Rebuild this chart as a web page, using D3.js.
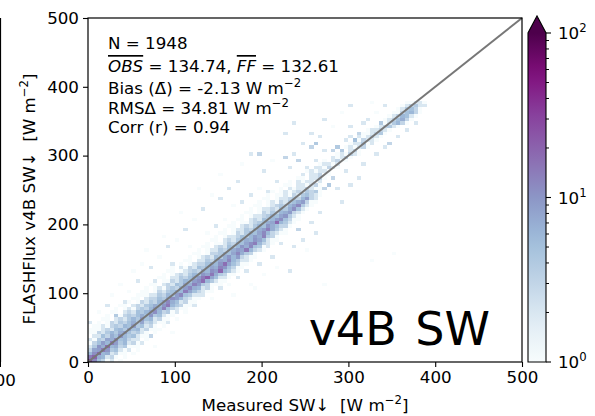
<!DOCTYPE html>
<html>
<head>
<meta charset="utf-8">
<script src="https://cdn.jsdelivr.net/npm/d3@7"></script>
<style>
  body { margin: 0; background: #fff; }
  text { font-family: "DejaVu Sans", sans-serif; fill: #000; white-space: pre; }
</style>
</head>
<body>
<div id="chart"></div>
<script>
// 2D histogram of FLASHFlux v4B SW vs measured SW, 5 W m-2 bins
// dense band: [y bin start, first x bin start, counts for consecutive x bins]
var bandRows = [
  [0, 0, [28, 12, 5, 3, 1, 2, 0, 1]],
  [5, 0, [14, 20, 7, 6, 2, 3, 1, 0, 1]],
  [10, 0, [6, 11, 19, 6, 7, 2, 3, 1, 1, 0, 1]],
  [15, 0, [3, 8, 9, 15, 10, 4, 5, 2, 1, 2, 0, 1]],
  [20, 0, [2, 4, 10, 7, 18, 6, 7, 3, 4, 1, 1, 1]],
  [25, 0, [1, 3, 5, 9, 6, 14, 9, 4, 6, 2, 3, 1, 1]],
  [30, 0, [2, 1, 4, 3, 8, 7, 12, 5, 6, 3, 2, 2, 0, 1]],
  [35, 0, [0, 2, 2, 5, 3, 7, 5, 10, 6, 4, 5, 2, 1, 1, 1]],
  [40, 0, [1, 1, 3, 2, 4, 6, 4, 7, 9, 5, 3, 4, 2, 1, 0, 1]],
  [45, 0, [1, 0, 1, 2, 3, 2, 5, 6, 4, 8, 5, 6, 2, 3, 1, 1]],
  [50, 5, [1, 1, 2, 1, 3, 4, 3, 6, 5, 9, 4, 5, 2, 3, 1, 0, 1]],
  [55, 10, [1, 0, 1, 3, 2, 4, 3, 5, 7, 4, 8, 3, 4, 2, 1, 1]],
  [60, 15, [1, 1, 0, 2, 3, 2, 4, 6, 4, 9, 5, 6, 2, 3, 1, 1]],
  [65, 20, [1, 0, 2, 1, 3, 4, 3, 5, 7, 5, 10, 4, 5, 2, 1, 1]],
  [70, 25, [1, 1, 0, 2, 3, 2, 5, 4, 6, 8, 11, 6, 3, 4, 1, 2]],
  [75, 30, [1, 0, 1, 2, 1, 3, 4, 3, 6, 9, 7, 13, 5, 3, 2, 1, 1]],
  [80, 35, [1, 1, 0, 2, 3, 2, 4, 5, 7, 6, 10, 15, 6, 4, 3, 1, 1]],
  [85, 45, [1, 0, 1, 3, 2, 4, 3, 6, 8, 12, 7, 5, 2, 3, 1, 1]],
  [90, 50, [1, 1, 0, 2, 3, 3, 5, 4, 7, 11, 9, 6, 3, 2, 1, 1]],
  [95, 55, [1, 0, 1, 2, 2, 4, 3, 6, 5, 9, 12, 5, 4, 2, 2, 1]],
  [100, 60, [1, 1, 0, 1, 3, 2, 4, 5, 7, 6, 14, 8, 5, 3, 2, 1, 1]],
  [105, 65, [1, 0, 1, 2, 1, 3, 4, 3, 6, 9, 12, 7, 6, 2, 3, 1]],
  [110, 70, [1, 1, 0, 2, 3, 2, 5, 4, 8, 7, 13, 9, 4, 3, 1, 1, 1]],
  [115, 75, [1, 0, 1, 1, 3, 2, 4, 6, 5, 9, 11, 17, 6, 4, 2, 1, 1]],
  [120, 80, [1, 1, 0, 2, 2, 4, 3, 5, 7, 9, 14, 21, 8, 5, 2, 2, 1]],
  [125, 85, [1, 0, 1, 2, 3, 2, 4, 6, 5, 10, 8, 15, 7, 4, 3, 1, 1]],
  [130, 90, [1, 1, 0, 1, 2, 3, 4, 3, 7, 6, 11, 9, 19, 6, 4, 2, 1]],
  [135, 95, [1, 0, 2, 1, 3, 2, 5, 4, 6, 8, 7, 13, 10, 5, 3, 1, 1]],
  [140, 105, [1, 0, 1, 2, 3, 3, 5, 7, 6, 10, 17, 8, 5, 3, 1, 1]],
  [145, 110, [1, 1, 0, 2, 2, 4, 3, 6, 8, 7, 12, 6, 4, 2, 2, 1]],
  [150, 115, [1, 0, 1, 2, 3, 2, 5, 4, 7, 10, 6, 9, 3, 2, 1, 1]],
  [155, 120, [1, 1, 0, 1, 3, 3, 4, 6, 5, 8, 12, 7, 4, 3, 1]],
  [160, 125, [1, 0, 1, 2, 2, 4, 3, 5, 7, 9, 8, 15, 6, 3, 2, 1]],
  [165, 130, [1, 1, 0, 2, 3, 2, 5, 4, 6, 10, 7, 12, 5, 4, 1, 1]],
  [170, 135, [1, 0, 1, 1, 2, 4, 3, 6, 5, 8, 11, 14, 6, 3, 2, 1]],
  [175, 140, [1, 1, 0, 2, 3, 2, 4, 5, 7, 6, 10, 8, 5, 2, 1, 1]],
  [180, 145, [1, 0, 1, 2, 2, 3, 5, 4, 6, 9, 7, 11, 4, 3, 1]],
  [185, 150, [1, 1, 0, 1, 3, 2, 4, 6, 5, 8, 12, 6, 3, 2, 1, 1]],
  [190, 155, [1, 0, 1, 2, 2, 4, 3, 5, 7, 9, 14, 7, 4, 2, 1]],
  [195, 160, [1, 1, 0, 2, 3, 2, 4, 6, 5, 10, 7, 5, 3, 1, 1]],
  [200, 165, [1, 0, 1, 1, 2, 3, 4, 5, 7, 8, 18, 6, 4, 2, 1]],
  [205, 170, [1, 1, 0, 2, 3, 2, 5, 4, 6, 9, 11, 5, 3, 1, 1]],
  [210, 175, [1, 0, 1, 2, 2, 3, 4, 6, 5, 8, 10, 4, 2, 1]],
  [215, 180, [1, 1, 0, 1, 3, 2, 4, 3, 6, 7, 9, 3, 2, 1]],
  [220, 185, [1, 0, 1, 2, 2, 3, 2, 5, 4, 7, 11, 5, 2, 1]],
  [225, 190, [1, 1, 0, 1, 2, 3, 4, 3, 6, 8, 12, 4, 2, 1]],
  [230, 195, [1, 0, 1, 2, 1, 3, 2, 4, 5, 7, 9, 3, 1, 1]],
  [235, 200, [1, 1, 0, 1, 2, 2, 3, 4, 3, 6, 7, 3, 2]],
  [240, 205, [1, 0, 1, 1, 2, 1, 3, 2, 4, 5, 3, 2, 1]],
  [245, 210, [1, 0, 1, 2, 1, 2, 3, 2, 4, 3, 2, 1]],
  [250, 220, [1, 0, 2, 1, 2, 2, 3, 2, 1, 1]],
  [255, 225, [1, 1, 0, 2, 2, 1, 2, 3, 1]],
  [260, 230, [1, 0, 2, 1, 2, 2, 1, 2]],
  [265, 240, [1, 1, 0, 2, 2, 3, 1]],
  [270, 245, [1, 0, 2, 2, 3, 1, 1]],
  [275, 250, [1, 2, 1, 2, 2, 1]],
  [280, 260, [2, 0, 1, 3, 2, 1]],
  [285, 265, [1, 2, 2, 1, 2]],
  [290, 270, [1, 0, 2, 3, 1, 1]],
  [295, 280, [2, 1, 2, 3, 1]],
  [300, 285, [1, 2, 1, 3, 2, 1]],
  [305, 290, [1, 0, 2, 3, 1]],
  [310, 295, [1, 2, 1, 2, 3, 1]],
  [315, 300, [1, 2, 2, 4, 1, 2]],
  [320, 305, [1, 1, 3, 2, 2, 1]],
  [325, 310, [2, 1, 2, 3, 2, 1]],
  [330, 315, [1, 1, 2, 3, 4, 1]],
  [335, 320, [1, 2, 2, 3, 2, 1]],
  [340, 330, [1, 2, 3, 4, 2, 1]],
  [345, 335, [1, 1, 2, 4, 6, 3, 1]],
  [350, 340, [1, 2, 3, 5, 7, 3, 1]],
  [355, 345, [1, 2, 3, 6, 5, 2, 1]],
  [360, 350, [1, 1, 3, 5, 6, 3, 1]],
  [365, 355, [1, 2, 4, 5, 3, 1]],
  [370, 360, [1, 2, 3, 4, 2, 1]],
  [375, 365, [1, 1, 2, 2, 1]]
];

// scattered cells away from the band: [x bin start, y bin start, count]
var scatterCells = [
  [5, 45, 1], [0, 55, 2], [10, 70, 1], [20, 80, 2], [25, 95, 1], [35, 110, 1], [30, 65, 2],
  [45, 100, 1], [55, 115, 2], [50, 130, 1], [60, 140, 1], [70, 135, 2], [80, 150, 1],
  [65, 160, 1], [90, 165, 2], [100, 175, 1], [85, 180, 1], [110, 190, 2], [120, 205, 1],
  [105, 215, 1], [130, 220, 2], [140, 240, 1], [125, 250, 1], [150, 235, 2], [160, 250, 2],
  [150, 270, 1], [170, 260, 2], [175, 285, 1], [185, 300, 2], [195, 300, 3], [200, 275, 2],
  [210, 290, 1], [215, 260, 2], [225, 295, 3], [230, 280, 2], [235, 300, 2], [240, 290, 3],
  [225, 330, 2], [235, 345, 2], [245, 315, 2], [255, 310, 3], [260, 315, 4], [255, 330, 2],
  [265, 325, 2], [270, 305, 2], [280, 305, 3], [285, 310, 4], [290, 305, 3], [295, 320, 2],
  [300, 325, 2], [305, 320, 4], [310, 330, 3], [315, 345, 2], [300, 340, 2], [280, 340, 1],
  [270, 350, 2], [320, 350, 2], [330, 360, 1], [335, 345, 3], [340, 370, 2], [325, 375, 1],
  [290, 360, 1], [300, 370, 2], [260, 290, 2], [250, 280, 2], [245, 270, 1], [265, 280, 2],
  [185, 240, 2], [195, 250, 1], [175, 230, 2], [165, 225, 1], [205, 245, 2], [155, 205, 1],
  [145, 195, 2], [135, 185, 1], [115, 165, 1], [95, 140, 2], [75, 115, 1], [60, 95, 1],
  [40, 85, 2],
  [60, 25, 1], [70, 35, 2], [80, 45, 1], [75, 20, 1], [90, 55, 2], [100, 60, 1], [110, 70, 1],
  [95, 40, 1], [120, 80, 2], [130, 95, 1], [140, 90, 1], [150, 105, 2], [160, 110, 1],
  [170, 120, 2], [165, 95, 1], [180, 130, 2], [185, 110, 1], [190, 105, 1], [195, 140, 2],
  [200, 125, 1], [210, 150, 2], [215, 135, 1], [220, 170, 2], [230, 130, 2], [235, 165, 2],
  [240, 190, 3], [245, 175, 2], [250, 160, 1], [255, 200, 2], [260, 185, 2], [265, 215, 2],
  [270, 250, 3], [275, 255, 4], [280, 265, 3], [285, 250, 2], [270, 110, 1], [290, 230, 2],
  [300, 255, 2], [310, 265, 2], [325, 145, 1], [330, 300, 2], [340, 310, 2], [345, 315, 3],
  [350, 155, 1], [355, 325, 2], [365, 335, 2], [375, 345, 2], [385, 370, 1], [225, 195, 2],
  [200, 180, 2], [205, 165, 1], [250, 235, 2], [260, 245, 2], [315, 285, 2], [295, 275, 2]
];

var binSize = 5;
var axisTicks = [0, 100, 200, 300, 400, 500];
var cbarTicks = [1, 10, 100];
var cbarMinor = [2, 3, 4, 5, 6, 7, 8, 9, 20, 30, 40, 50, 60, 70, 80, 90];
var statLines = {n: "1948", obs: "134.74", ff: "132.61", bias: "-2.13", rms: "34.81", corr: "0.94"};

// matplotlib BuPu
var bupu = ["#f7fcfd", "#e0ecf4", "#bfd3e6", "#9ebcda", "#8c96c6", "#8c6bb1", "#88419d", "#810f7c", "#4d004b"];

var width = 595, height = 416;
var plot = {left: 88, right: 522, top: 18, bottom: 362};
var cbar = {left: 528, right: 546, top: 33, tip: 16};
var fs = 16.7;

var x = d3.scaleLinear().domain([0, 500]).range([plot.left, plot.right]);
var y = d3.scaleLinear().domain([0, 500]).range([plot.bottom, plot.top]);
var norm = d3.scaleLog().domain([1, 100]).range([0, 1]).clamp(true);
var cmap = d3.scaleLinear().domain(d3.range(9).map(i => i / 8)).range(bupu).interpolate(d3.interpolateRgb);
var cy = d3.scaleLog().domain([1, 100]).range([plot.bottom, cbar.top]);

// collect bins
var bins = new Map();
function add(bx, by, n) {
  if (!n) return;
  var k = bx + "," + by;
  bins.set(k, (bins.get(k) || 0) + n);
}
bandRows.forEach(r => r[2].forEach((n, i) => add(r[1] + i * binSize, r[0], n)));
scatterCells.forEach(c => add(c[0], c[1], c[2]));
var cells = Array.from(bins, ([k, n]) => { var p = k.split(","); return {x: +p[0], y: +p[1], n: n}; });

var svg = d3.select("#chart").append("svg")
  .attr("width", width)
  .attr("height", height);

// edge of the neighbouring panel
svg.append("line")
  .attr("x1", 0.5).attr("x2", 0.5)
  .attr("y1", plot.top).attr("y2", plot.bottom)
  .attr("stroke", "black").attr("stroke-width", 1.2);
svg.append("line")
  .attr("x1", 0.5).attr("x2", 0.5)
  .attr("y1", plot.bottom).attr("y2", plot.bottom + 5)
  .attr("stroke", "black");
svg.append("text")
  .attr("x", 0).attr("y", plot.bottom + 24)
  .attr("text-anchor", "middle")
  .style("font-size", fs + "px")
  .text("500");

// histogram cells
svg.append("g").selectAll("rect")
  .data(cells)
  .enter().append("rect")
    .attr("x", d => x(d.x))
    .attr("y", d => y(d.y + binSize))
    .attr("width", d => x(d.x + binSize) - x(d.x))
    .attr("height", d => y(d.y) - y(d.y + binSize))
    .attr("fill", d => cmap(norm(d.n)))
    .attr("shape-rendering", "crispEdges");

// 1:1 line
svg.append("line")
  .attr("x1", x(0)).attr("y1", y(0))
  .attr("x2", x(500)).attr("y2", y(500))
  .attr("stroke", "#777777")
  .attr("stroke-width", 2);

// frame
svg.append("rect")
  .attr("x", plot.left).attr("y", plot.top)
  .attr("width", plot.right - plot.left)
  .attr("height", plot.bottom - plot.top)
  .attr("fill", "none")
  .attr("stroke", "black")
  .attr("stroke-width", 1.2);

// axes
var xAxis = svg.append("g")
  .attr("transform", "translate(0," + plot.bottom + ")")
  .call(d3.axisBottom(x).tickValues(axisTicks).tickSize(5).tickPadding(4));
var yAxis = svg.append("g")
  .attr("transform", "translate(" + plot.left + ",0)")
  .call(d3.axisLeft(y).tickValues(axisTicks).tickSize(5).tickPadding(4));
[xAxis, yAxis].forEach(g => {
  g.select(".domain").remove();
  g.selectAll("text").style("font-size", fs + "px").style("font-family", "DejaVu Sans");
  g.selectAll("line").attr("stroke-width", 1.1);
});

// label helper: parts are [text, kind]
function rich(t, parts, size) {
  parts.forEach(p => {
    var s = t.append("tspan").text(p[0]);
    if (p[1] == "sup") s.attr("dy", -size * 0.4).style("font-size", (size * 0.7) + "px");
    if (p[1] == "down") s.attr("dy", size * 0.4);
    if (p[1] == "it") s.style("font-style", "italic");
    if (p[1] == "bar") s.style("font-style", "italic").style("text-decoration", "overline");
  });
  return t;
}

rich(svg.append("text")
  .attr("x", (plot.left + plot.right) / 2).attr("y", 411)
  .attr("text-anchor", "middle")
  .style("font-size", fs + "px"),
  [["Measured SW\u2193  [W m"], ["\u22122", "sup"], ["]", "down"]], fs);

rich(svg.append("text")
  .attr("transform", "translate(35,199) rotate(-90)")
  .attr("text-anchor", "middle")
  .style("font-size", fs + "px"),
  [["FLASHFlux v4B SW\u2193  [W m"], ["\u22122", "sup"], ["]", "down"]], fs);

// stats box
var tx = 108;
svg.append("text").attr("x", tx).attr("y", 49).style("font-size", fs + "px")
  .text("N = " + statLines.n);
rich(svg.append("text").attr("x", tx).attr("y", 72).style("font-size", fs + "px"),
  [["OBS", "bar"], [" = " + statLines.obs + ", "], ["FF", "bar"], [" = " + statLines.ff]], fs);
rich(svg.append("text").attr("x", tx).attr("y", 94).style("font-size", fs + "px"),
  [["Bias (\u0394\u0304) = " + statLines.bias + " W m"], ["\u22122", "sup"]], fs);
rich(svg.append("text").attr("x", tx).attr("y", 114).style("font-size", fs + "px"),
  [["RMS\u0394 = " + statLines.rms + " W m"], ["\u22122", "sup"]], fs);
svg.append("text").attr("x", tx).attr("y", 133).style("font-size", fs + "px")
  .text("Corr (r) = " + statLines.corr);

// big panel tag
svg.append("text")
  .attr("x", 490).attr("y", 345)
  .attr("text-anchor", "end")
  .style("font-size", "46px")
  .style("word-spacing", "4px")
  .text("v4B SW");

// colourbar
var grad = svg.append("defs").append("linearGradient")
  .attr("id", "bupu")
  .attr("x1", 0).attr("y1", 1).attr("x2", 0).attr("y2", 0);
grad.selectAll("stop")
  .data(d3.range(0, 1.0001, 0.05))
  .enter().append("stop")
    .attr("offset", d => d)
    .attr("stop-color", d => cmap(d));

svg.append("rect")
  .attr("x", cbar.left).attr("y", cbar.top)
  .attr("width", cbar.right - cbar.left)
  .attr("height", plot.bottom - cbar.top)
  .attr("fill", "url(#bupu)");
svg.append("path")
  .attr("d", "M" + cbar.left + "," + cbar.top + "L" + ((cbar.left + cbar.right) / 2) + "," + cbar.tip + "L" + cbar.right + "," + cbar.top + "Z")
  .attr("fill", bupu[8]);
svg.append("path")
  .attr("d", "M" + cbar.left + "," + plot.bottom + "L" + cbar.left + "," + cbar.top +
    "L" + ((cbar.left + cbar.right) / 2) + "," + cbar.tip + "L" + cbar.right + "," + cbar.top +
    "L" + cbar.right + "," + plot.bottom + "Z")
  .attr("fill", "none")
  .attr("stroke", "black")
  .attr("stroke-width", 1.1);

var cAxis = svg.append("g")
  .attr("transform", "translate(" + cbar.right + ",0)");
cAxis.selectAll(".minor")
  .data(cbarMinor)
  .enter().append("line")
    .attr("x1", 0).attr("x2", 3)
    .attr("y1", d => cy(d)).attr("y2", d => cy(d))
    .attr("stroke", "black");
cAxis.selectAll(".major")
  .data(cbarTicks)
  .enter().append("line")
    .attr("x1", 0).attr("x2", 5)
    .attr("y1", d => cy(d)).attr("y2", d => cy(d))
    .attr("stroke", "black").attr("stroke-width", 1.1);
cAxis.selectAll(".lab")
  .data(cbarTicks)
  .enter().append("text")
    .attr("x", 12).attr("y", d => cy(d) + 6)
    .style("font-size", fs + "px")
    .each(function(d) {
      rich(d3.select(this), [["10"], [String(Math.round(Math.log10(d))), "sup"]], fs);
    });
</script>
</body>
</html>
